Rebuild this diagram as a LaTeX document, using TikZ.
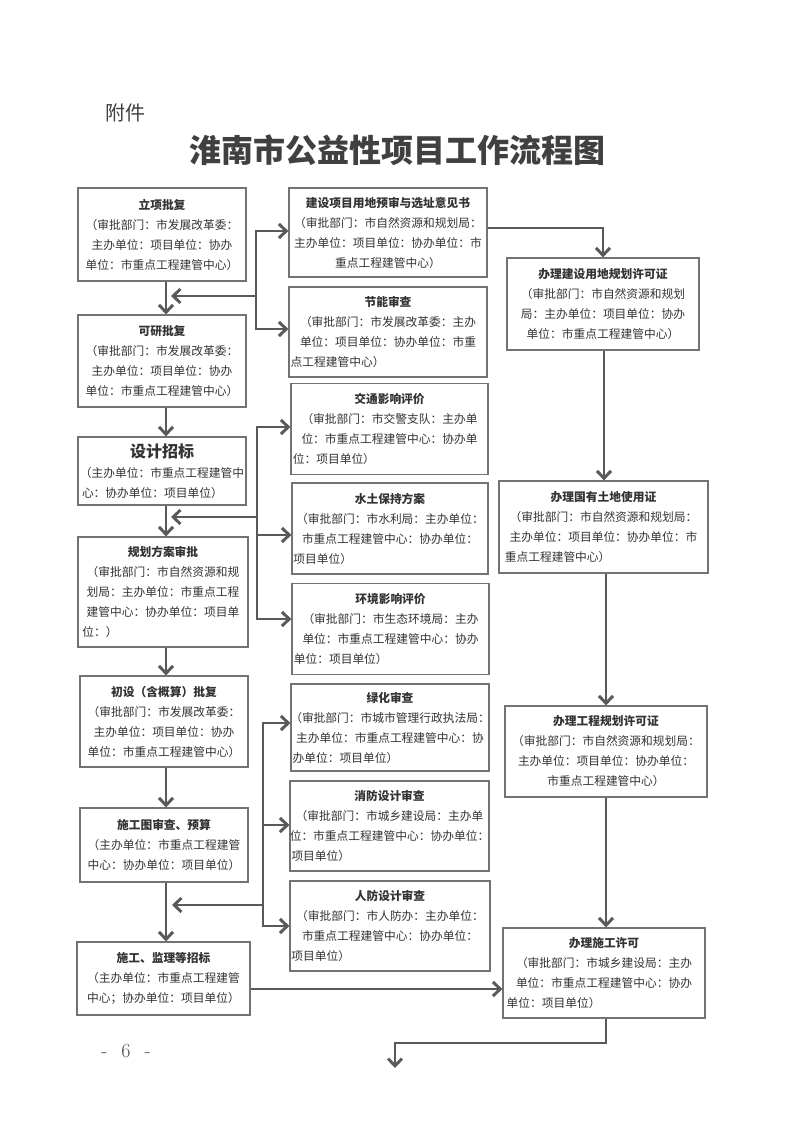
\documentclass[tikz,border=0pt]{standalone}
\usepackage{fontspec}
\newfontfamily\cjk{Noto Sans CJK SC}
\usetikzlibrary{arrows.meta}
\newcommand\lnC[1]{\hbox to\hsize{\hss#1\hss}}
\newcommand\lnL[1]{\hbox to\hsize{#1\hss}}
\newcommand\ttl[1]{\hbox to\hsize{\hss\bfseries#1\hss}}
\newcommand\vb[2]{\vbox{\hsize=#1pt\relax #2}}
\begin{document}
\begin{tikzpicture}[x=0.75pt,y=-0.75pt,
  bx/.style={draw=black!55, line width=0.9pt, fill=white, inner sep=0pt, text=black!80,
    font=\cjk\fontsize{8.8}{15}\selectfont},
  sz/.style 2 args={minimum width=#1*0.75pt, minimum height=#2*0.75pt},
  arr/.style={draw=black!65, line width=2.2pt, -{Straight Barb[length=5.5pt,width=10.5pt]}},
]
\fill[white] (0,0) rectangle (793,1121);
\useasboundingbox (0,0) rectangle (793,1121);

% header
\node[font=\cjk\fontsize{15}{18}\selectfont, text=black!75] (att) at (125,113) {附件};
\node[font=\cjk\bfseries\fontsize{24}{28}\selectfont, text=black!75] (title) at (397,150) {淮南市公益性项目工作流程图};
\node[font=\fontsize{15}{18}\selectfont, text=black!70] (page) at (126,1051) {-\hspace{0.7em}6\hspace{0.7em}-};

% left column
\node[bx, sz={168}{93}] (n1) at (162,234.5) {\vb{120}{\ttl{立项批复}\lnC{（审批部门：市发展改革委：}\lnC{主办单位：项目单位：协办}\lnC{单位：市重点工程建管中心）}}};
\node[bx, sz={168}{92}] (n2) at (162,361) {\vb{120}{\ttl{可研批复}\lnC{（审批部门：市发展改革委：}\lnC{主办单位：项目单位：协办}\lnC{单位：市重点工程建管中心）}}};
\node[bx, sz={168}{68}] (n3) at (162,471) {\vb{120}{\lnC{\bfseries\fontsize{12}{15}\selectfont 设计招标}\lnC{（主办单位：市重点工程建管中}\lnL{心：协办单位：项目单位）}}};
\node[bx, sz={170}{110}] (n4) at (163,592) {\vb{121}{\ttl{规划方案审批}\lnC{（审批部门：市自然资源和规}\lnC{划局：主办单位：市重点工程}\lnC{建管中心：协办单位：项目单}\lnL{位：）}}};
\node[bx, sz={168}{91}] (n5) at (164,721.5) {\vb{120}{\ttl{初设（含概算）批复}\lnC{（审批部门：市发展改革委：}\lnC{主办单位：项目单位：协办}\lnC{单位：市重点工程建管中心）}}};
\node[bx, sz={168}{74}] (n6) at (164,845) {\vb{120}{\ttl{施工图审查、预算}\lnC{（主办单位：市重点工程建管}\lnC{中心：协办单位：项目单位）}}};
\node[bx, sz={173}{73}] (n7) at (163.5,978.5) {\vb{124}{\ttl{施工、监理等招标}\lnC{（主办单位：市重点工程建管}\lnC{中心；协办单位：项目单位）}}};

% middle column
\node[bx, sz={198}{89}] (A) at (388,232.5) {\vb{146}{\ttl{建设项目用地预审与选址意见书}\lnC{（审批部门：市自然资源和规划局：}\lnC{主办单位：项目单位：协办单位：市}\lnC{重点工程建管中心）}}};
\node[bx, sz={198}{90}] (B) at (388,332) {\vb{146}{\ttl{节能审查}\lnC{（审批部门：市发展改革委：主办}\lnC{单位：项目单位：协办单位：市重}\lnL{点工程建管中心）}}};
\node[bx, sz={197}{91}] (C) at (389.5,429) {\vb{145}{\ttl{交通影响评价}\lnC{（审批部门：市交警支队：主办单}\lnC{位：市重点工程建管中心：协办单}\lnL{位：项目单位）}}};
\node[bx, sz={196}{91}] (D) at (390,528.5) {\vb{145}{\ttl{水土保持方案}\lnC{（审批部门：市水利局：主办单位：}\lnC{市重点工程建管中心：协办单位：}\lnL{项目单位）}}};
\node[bx, sz={197}{91}] (E) at (390.5,629) {\vb{145}{\ttl{环境影响评价}\lnC{（审批部门：市生态环境局：主办}\lnC{单位：市重点工程建管中心：协办}\lnL{单位：项目单位）}}};
\node[bx, sz={198}{87}] (F) at (390,727.5) {\vb{146}{\ttl{绿化审查}\lnC{（审批部门：市城市管理行政执法局：}\lnC{主办单位：市重点工程建管中心：协}\lnL{办单位：项目单位）}}};
\node[bx, sz={199}{90}] (G) at (389.5,826) {\vb{147}{\ttl{消防设计审查}\lnC{（审批部门：市城乡建设局：主办单}\lnC{位：市重点工程建管中心：协办单位：}\lnL{项目单位）}}};
\node[bx, sz={200}{90}] (H) at (390,926) {\vb{148}{\ttl{人防设计审查}\lnC{（审批部门：市人防办：主办单位：}\lnC{市重点工程建管中心：协办单位：}\lnL{项目单位）}}};

% right column
\node[bx, sz={192}{92}] (R1) at (603,304) {\vb{140}{\ttl{办理建设用地规划许可证}\lnC{（审批部门：市自然资源和规划}\lnC{局：主办单位：项目单位：协办}\lnC{单位：市重点工程建管中心）}}};
\node[bx, sz={209}{92}] (R2) at (603.5,527) {\vb{148}{\ttl{办理国有土地使用证}\lnC{（审批部门：市自然资源和规划局：}\lnC{主办单位：项目单位：协办单位：市}\lnL{重点工程建管中心）}}};
\node[bx, sz={202}{91}] (R3) at (606,751.5) {\vb{148}{\ttl{办理工程规划许可证}\lnC{（审批部门：市自然资源和规划局：}\lnC{主办单位：项目单位：协办单位：}\lnC{市重点工程建管中心）}}};
\node[bx, sz={202}{90}] (R4) at (604,973) {\vb{146}{\ttl{办理施工许可}\lnC{（审批部门：市城乡建设局：主办}\lnC{单位：市重点工程建管中心：协办}\lnL{单位：项目单位）}}};

% coordinates
\coordinate (mx) at (166,0);
\coordinate (b1) at (256,296);
\coordinate (t1) at (171,296);
\coordinate (b2) at (257,517);
\coordinate (t2) at (171,517);
\coordinate (b3) at (263,905);
\coordinate (t3) at (172,905);
\coordinate (k1) at (603,228);
\coordinate (rx1) at (604,0);
\coordinate (rx2) at (606,0);
\coordinate (e1) at (606,1043);
\coordinate (e2) at (395,1043);
\coordinate (e3) at (395,1068);

% main vertical chain
\draw[arr] (n1.south -| mx) -- (n2.north -| mx);
\draw[arr] (n2.south -| mx) -- (n3.north -| mx);
\draw[arr] (n3.south -| mx) -- (n4.north -| mx);
\draw[arr] (n4.south -| mx) -- (n5.north -| mx);
\draw[arr] (n5.south -| mx) -- (n6.north -| mx);
\draw[arr] (n6.south -| mx) -- (n7.north -| mx);

% branch 1
\draw[arr] (b1) -- (t1);
\draw[arr] (b1) |- (A.west |- 0,231);
\draw[arr] (b1) |- (B.west |- 0,329);

% branch 2
\draw[arr] (b2) -- (t2);
\draw[arr] (b2) |- (C.west |- 0,427);
\draw[arr] (b2 |- 0,535) -- (D.west |- 0,535);
\draw[arr] (b2) |- (E.west |- 0,619);

% branch 3
\draw[arr] (b3) -- (t3);
\draw[arr] (b3) |- (F.west |- 0,723);
\draw[arr] (b3 |- 0,825) -- (G.west |- 0,825);
\draw[arr] (b3) |- (H.west |- 0,926);

% right chain
\draw[arr] (A.east |- k1) -- (k1) -- (R1.north -| k1);
\draw[arr] (R1.south -| rx1) -- (R2.north -| rx1);
\draw[arr] (R2.south -| rx2) -- (R3.north -| rx2);
\draw[arr] (R3.south -| rx2) -- (R4.north -| rx2);
\draw[arr] (R4.south -| e1) -- (e1) -- (e2) -- (e3);
\draw[arr] (n7.east |- 0,989) -- (R4.west |- 0,989);
\end{tikzpicture}
\end{document}
